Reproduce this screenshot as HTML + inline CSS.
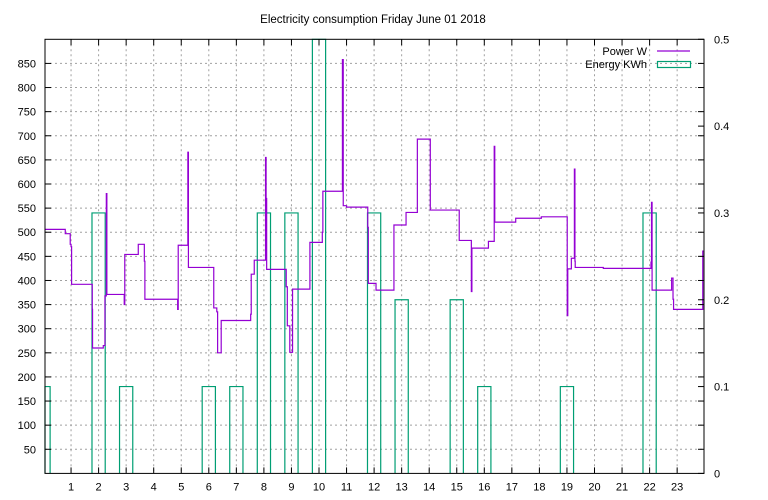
<!DOCTYPE html>
<html><head><meta charset="utf-8"><style>
body{margin:0;background:#fff}
svg{display:block;font-family:"Liberation Sans","DejaVu Sans",sans-serif}
</style></head><body>
<svg id="c" width="768" height="500" viewBox="0 0 768 500">
<text x="373" y="23" text-anchor="middle" font-size="11.5">Electricity consumption Friday June 01 2018</text>
<g id="grid"></g>
<g id="energy"></g>
<g id="power"></g>
<g id="axes"></g>
<g>
<text x="647" y="55" text-anchor="end" font-size="11">Power W</text>
<line x1="657" y1="51" x2="690" y2="51" stroke="#9400d3" stroke-width="1.2"/>
<text x="647" y="68" text-anchor="end" font-size="11">Energy KWh</text>
<rect x="657.5" y="61.5" width="33" height="6" fill="none" stroke="#009e73" stroke-width="1.2"/>
</g>
</svg>
<script>
const leftTicks=[50,100,150,200,250,300,350,400,450,500,550,600,650,700,750,800,850];
const rightTicks=[0,0.1,0.2,0.3,0.4,0.5];
const rightTickLabels=["0","0.1","0.2","0.3","0.4","0.5"];
const hourTicks=[1,2,3,4,5,6,7,8,9,10,11,12,13,14,15,16,17,18,19,20,21,22,23];
const energyHours=[0,2,3,6,7,8,9,10,12,13,15,16,19,22];
const energyValues=[0.1,0.3,0.1,0.1,0.1,0.3,0.3,0.5,0.3,0.2,0.2,0.1,0.1,0.3];
const powerTimes=[0,0.79,0.97,1.0,1.02,1.77,1.78,2.17,2.23,2.28,2.30,2.93,2.95,3.44,3.66,3.68,4.87,4.89,5.24,5.26,6.18,6.29,6.32,6.45,7.52,7.54,7.65,8.06,8.08,8.10,8.81,8.85,8.94,9.02,9.04,9.67,10.12,10.14,10.85,10.88,11.0,11.77,11.79,12.07,12.72,13.16,13.57,14.04,15.09,15.53,15.55,16.15,16.36,16.38,17.14,18.07,19.01,19.03,19.04,19.16,19.27,19.29,19.30,20.32,21.5,22.05,22.07,22.09,22.8,22.85,22.87,23.93];
const powerValues=[506,497,475,470,392,340,260,265,368,580,371,350,454,475,440,361,340,473,666,427,343,335,250,317,330,413,442,655,570,423,387,306,251,251,382,479,500,585,858,555,552,510,394,380,515,541,693,546,483,377,467,481,678,521,529,532,327,424,424,446,631,440,427,425,425,438,562,380,405,361,340,461,450];
const NS="http://www.w3.org/2000/svg";
const L=45,R=704,T=39.3,B=473.4;
const xs=h=>Math.max(L,Math.min(R,43.5+27.55*h));
const yl=v=>B-(B-T)*v/900;
const yr=v=>B-(B-T)*v/0.5;
function mk(tag,attrs,parent){const e=document.createElementNS(NS,tag);for(const k in attrs)e.setAttribute(k,attrs[k]);parent.appendChild(e);return e;}
const grid=document.getElementById('grid'),axes=document.getElementById('axes');
leftTicks.forEach(v=>{
  const y=yl(v);
  const g=mk('line',{x1:L,x2:R,y1:y,y2:y,stroke:'#a0a0a0','stroke-dasharray':'2,3','stroke-width':1},grid);
  
  
  const t=mk('line',{x1:L,x2:L+6,y1:y,y2:y,stroke:'#000'},axes);
  
  
  const t2=mk('line',{x1:R-6,x2:R,y1:y,y2:y,stroke:'#000'},axes);
  
  
  const tx=mk('text',{x:L-9,y:y+4,'text-anchor':'end','font-size':11},axes);
  tx.textContent=v;
  
  
});
hourTicks.forEach(h=>{
  const x=xs(h);
  const g=mk('line',{x1:x,x2:x,y1:T,y2:B,stroke:'#a0a0a0','stroke-dasharray':'2,3','stroke-width':1},grid);
  
  
  const t=mk('line',{x1:x,x2:x,y1:B-6,y2:B,stroke:'#000'},axes);
  
  
  const t2=mk('line',{x1:x,x2:x,y1:T,y2:T+6,stroke:'#000'},axes);
  
  
  const tx=mk('text',{x:x,y:B+17,'text-anchor':'middle','font-size':11},axes);
  tx.textContent=h;
  
  
});
rightTicks.forEach((v,i)=>{
  const y=yr(v);
  const t=mk('line',{x1:R-6,x2:R,y1:y,y2:y,stroke:'#000'},axes);
  
  
  const tx=mk('text',{x:R+10,y:y+4,'font-size':11},axes);
  tx.textContent=rightTickLabels[i];
  
  
});
const frame=mk('rect',{x:L,y:T,width:R-L,height:B-T,fill:'none',stroke:'#000','stroke-width':1},axes);


const eg=document.getElementById('energy');
energyHours.forEach((h,i)=>{
  const x1=xs(h-0.24),x2=xs(h+0.24),y=yr(energyValues[i]);
  const p=mk('path',{d:`M${x1},${B}V${y}H${x2}V${B}`,fill:'none',stroke:'#009e73','stroke-width':1.2},eg);
  
  
});
let d='';
powerTimes.forEach((t,i)=>{
  const x=xs(t),y=yl(powerValues[i]);
  if(i===0)d+=`M${x},${y}`;else d+=`V${y}`;
  const nx=i<powerTimes.length-1?xs(powerTimes[i+1]):R;
  d+=`H${nx}`;
});
const pl=mk('path',{d:d,fill:'none',stroke:'#9400d3','stroke-width':1.2},document.getElementById('power'));


</script>
</body></html>
